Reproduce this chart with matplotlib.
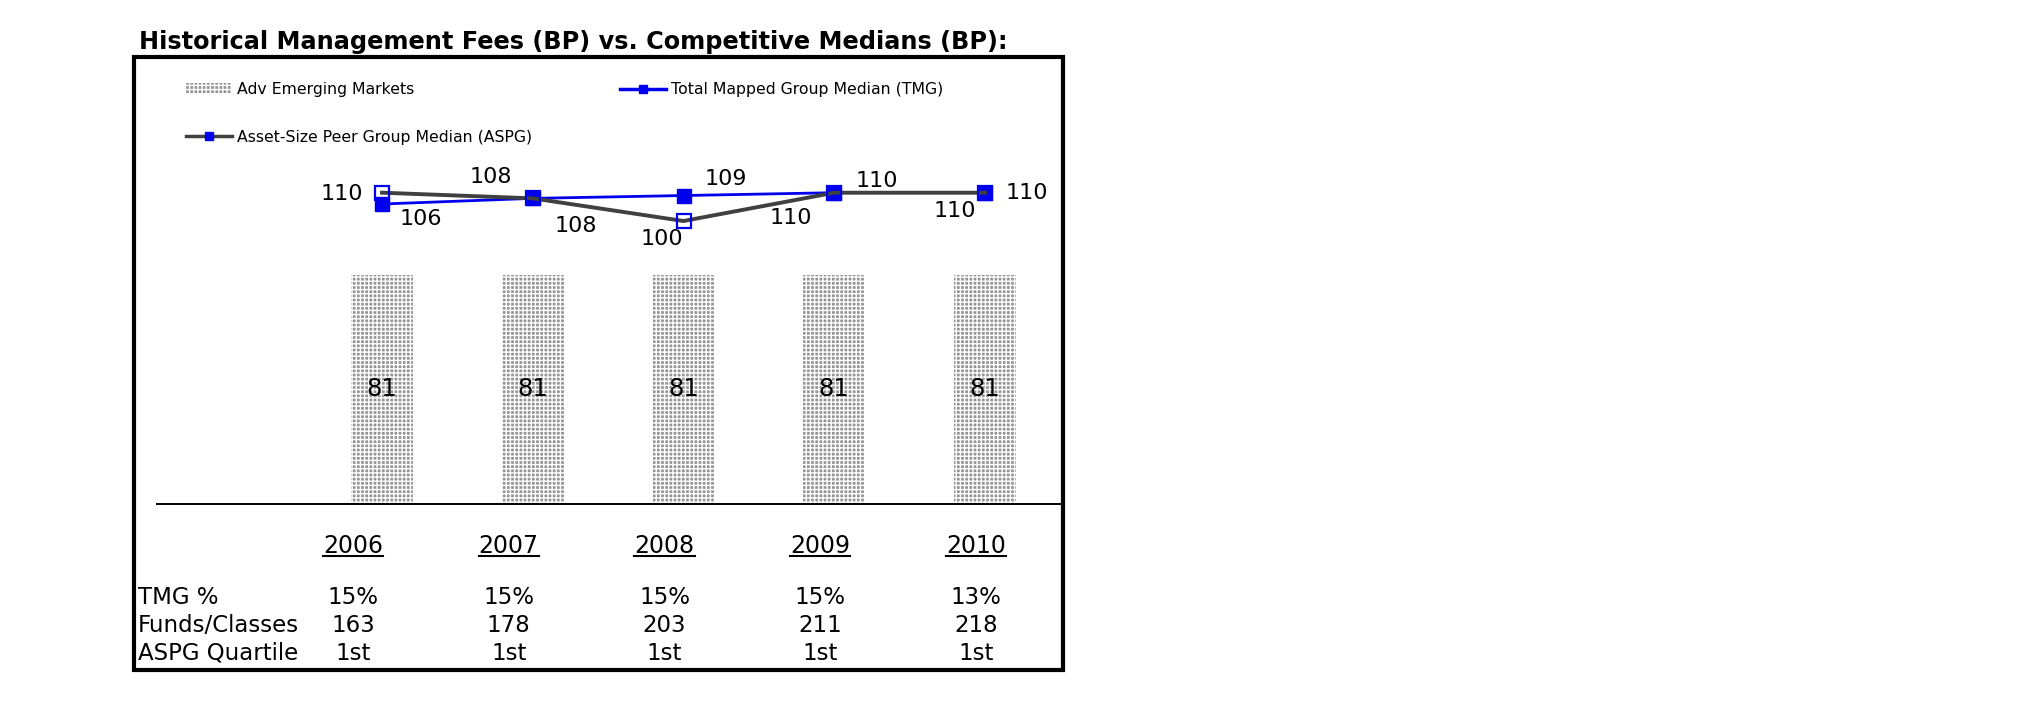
import matplotlib
matplotlib.use("Agg")
import matplotlib.pyplot as plt
from matplotlib.lines import Line2D
from matplotlib.patches import Patch, Rectangle

# data
years = ["2006", "2007", "2008", "2009", "2010"]
adv_emerging = [81, 81, 81, 81, 81]
tmg_median = [106, 108, 109, 110, 110]
aspg_median = [110, 108, 100, 110, 110]
tmg_pct = ["15%", "15%", "15%", "15%", "13%"]
funds_classes = ["163", "178", "203", "211", "218"]
aspg_quartile = ["1st", "1st", "1st", "1st", "1st"]
row_names = ["TMG %", "Funds/Classes", "ASPG Quartile"]

W, H = 2025, 717
BLUE = "#0000ee"
GRAY = "#404040"
BAR_FACE = "#959595"
BAR_HATCH = "++++"

plt.rcParams["hatch.linewidth"] = 1.0


def fx(px):
    return px / W


def fy(py):
    return 1 - py / H


fig = plt.figure(figsize=(W / 100, H / 100), dpi=100)
fig.patch.set_facecolor("white")

# title and outer frame
fig.text(fx(139), fy(49), "Historical Management Fees (BP) vs. Competitive Medians (BP):",
         fontsize=17.3, fontweight="bold", family="DejaVu Sans", va="baseline", ha="left")
fig.add_artist(Rectangle((fx(134), fy(670)), fx(1063) - fx(134), fy(57) - fy(670),
                         transform=fig.transFigure, fill=False, lw=3, ec="black"))

# main chart axes: category i sits at 382 + 150.75*i px, 0 bp at y=504 px, 2.83 px per bp
ax_l, ax_r, ax_b, ax_t = 157, 1062, 504, 160
ax = fig.add_axes([fx(ax_l), fy(ax_b), fx(ax_r) - fx(ax_l), fy(ax_t) - fy(ax_b)])
step = 150.75
ax.set_xlim(-(382 - ax_l) / step, 4 + (ax_r - 985) / step)
ax.set_ylim(0, (ax_b - ax_t) / 2.83)
for s in ["top", "left", "right"]:
    ax.spines[s].set_visible(False)
ax.spines["bottom"].set_linewidth(1.4)
ax.set_xticks([])
ax.set_yticks([])
ax.patch.set_alpha(0)

x = list(range(len(years)))
bars = ax.bar(x, adv_emerging, width=0.41, color=BAR_FACE, edgecolor="white",
              hatch=BAR_HATCH, linewidth=0, zorder=1)
ax.bar_label(bars, label_type="center", fontsize=17.5, family="DejaVu Sans")

ax.plot(x, tmg_median, color=BLUE, lw=2, marker="s", ms=9.5, mfc=BLUE, mec=BLUE,
        zorder=3, clip_on=False)
ax.plot(x, aspg_median, color=GRAY, lw=2.8, marker="s", ms=9.5, mfc="none", mec=BLUE,
        mew=1.6, zorder=4, clip_on=False)

# value labels, offsets in pixels from each point
tmg_off = [(39, -15), (43, -28), (42, 17), (43, 12), (42, 0)]
aspg_off = [(-40, -1), (-42, 21), (-22, -18), (-43, -25), (-30, -18)]
for i in x:
    ax.annotate(str(tmg_median[i]), (i, tmg_median[i]), xytext=tmg_off[i],
                textcoords="offset pixels", ha="center", va="center", fontsize=16)
    ax.annotate(str(aspg_median[i]), (i, aspg_median[i]), xytext=aspg_off[i],
                textcoords="offset pixels", ha="center", va="center", fontsize=16)

handles = [
    Patch(facecolor=BAR_FACE, edgecolor="white", hatch=BAR_HATCH, linewidth=0),
    Line2D([], [], color=GRAY, lw=2.5, marker="s", ms=6, mfc=BLUE, mec=BLUE),
    Line2D([], [], color=BLUE, lw=2.5, marker="s", ms=6, mfc=BLUE, mec=BLUE),
]
labels = ["Adv Emerging Markets", "Asset-Size Peer Group Median (ASPG)",
          "Total Mapped Group Median (TMG)"]
fig.legend(handles, labels, loc="upper left", bbox_to_anchor=(fx(186), fy(82)),
           ncol=2, frameon=False, fontsize=11.3, handlelength=2.9, handletextpad=0.35,
           columnspacing=5.6, labelspacing=2.1, borderpad=0, borderaxespad=0)

# data table under the chart
tab_l, tab_r, tab_b, tab_t = 134, 1063, 670, 515
tab = fig.add_axes([fx(tab_l), fy(tab_b), fx(tab_r) - fx(tab_l), fy(tab_t) - fy(tab_b)])
cstep = 155.75
tab.set_xlim(-(353 - tab_l) / cstep, 4 + (tab_r - 976) / cstep)
tab.set_ylim(tab_b, tab_t)
tab.axis("off")

year_texts = []
for i, yr in enumerate(years):
    year_texts.append(tab.text(i, 546, yr, ha="center", va="center", fontsize=17))

row_y = [597, 625, 653]
for r, (name, vals) in enumerate(zip(row_names, [tmg_pct, funds_classes, aspg_quartile])):
    tab.text(-(353 - 138) / cstep, row_y[r], name, ha="left", va="center", fontsize=16.5)
    for i, v in enumerate(vals):
        tab.text(i, row_y[r], v, ha="center", va="center", fontsize=16.5)

# underline the year headers
fig.canvas.draw()
renderer = fig.canvas.get_renderer()
inv = fig.transFigure.inverted()
for t in year_texts:
    bb = t.get_window_extent(renderer)
    (x0, y0), (x1, _) = inv.transform([(bb.x0, bb.y0 + 2), (bb.x1, bb.y0 + 2)])
    fig.add_artist(Line2D([x0, x1], [y0, y0], transform=fig.transFigure, color="black", lw=1.5))

fig.savefig("out.png", dpi=100, facecolor="white")
